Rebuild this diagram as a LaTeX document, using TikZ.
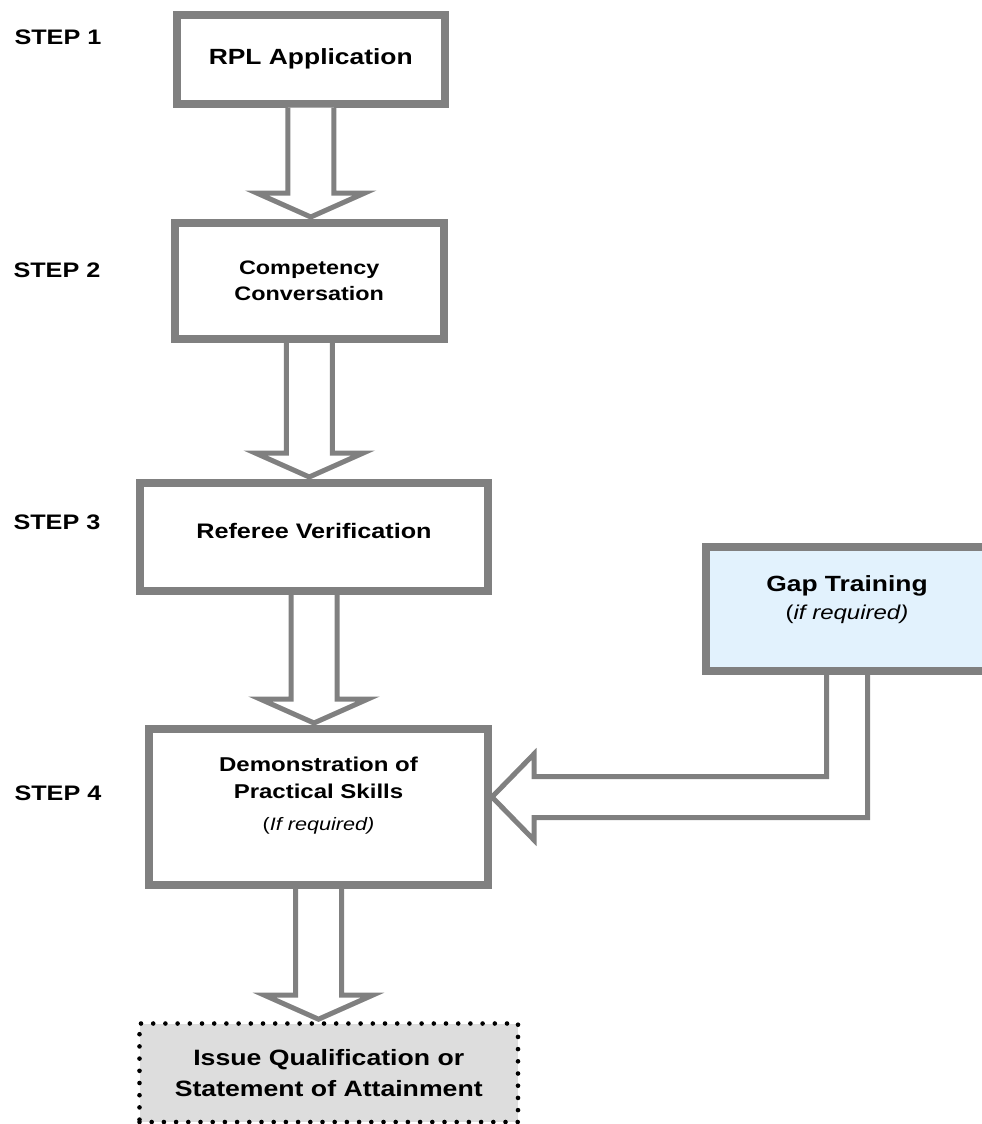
\documentclass[tikz,border=0pt]{standalone}
\usepackage{fontspec}
\setmainfont{Liberation Sans}[FakeStretch=1.2]
\usetikzlibrary{positioning,calc}
\definecolor{boxgray}{RGB}{128,128,128}
\definecolor{gapblue}{RGB}{226,242,253}
\definecolor{finalgray}{RGB}{221,221,221}

\begin{document}
\begin{tikzpicture}[x=1pt, y=-1pt,
    stage/.style={rectangle, draw=boxgray, line width=8pt, fill=white,
      inner sep=0pt, align=center},
    gapstage/.style={stage, fill=gapblue},
    finalstage/.style={stage, draw=black, fill=finalgray, line width=4.6pt,
      dash pattern=on 0pt off 12.2pt, line cap=round},
    steplabel/.style={anchor=west, font=\bfseries\fontsize{21}{25}\selectfont},
    blockarrow/.style={draw=boxgray, line width=5pt, fill=white}]
  \useasboundingbox (0,0) rectangle (982,1124);

  \node[steplabel] (s1) at (11,37) {STEP 1};
  \node[steplabel] (s2) at (10,270) {STEP 2};
  \node[steplabel] (s3) at (10,522) {STEP 3};
  \node[steplabel] (s4) at (11,793) {STEP 4};

  \node[stage, minimum width=268.5pt, minimum height=88.5pt,
    font=\bfseries\fontsize{22}{26}\selectfont] (rpl) at (310.75,59.25) {RPL Application};
  \node[stage, minimum width=268.5pt, minimum height=116pt,
    font=\bfseries\fontsize{19.5}{26}\selectfont] (comp) at (309.25,281) {Competency\\Conversation};
  \node[stage, minimum width=348pt, minimum height=108pt, text depth=12pt,
    font=\bfseries\fontsize{21}{25}\selectfont] (ref) at (314,537) {Referee Verification};
  \node[stage, minimum width=339pt, minimum height=156pt] (demo) at (318.5,807) {};
  \node[align=center, font=\bfseries\fontsize{20}{27}\selectfont] (demotext)
    at ($(demo.center)+(0,-11)$)
    {Demonstration of\\Practical Skills\\[5pt]{\mdseries\fontsize{18}{22}\selectfont(\textit{If required)}}};
  \node[gapstage, minimum width=282pt, minimum height=124pt] (gap) at (847,609) {};
  \node[align=center, font=\bfseries\fontsize{22}{28}\selectfont] (gaptext)
    at ($(gap.center)+(0,-9)$)
    {Gap Training\\{\mdseries\fontsize{20}{24}\selectfont(\textit{if required)}}};
  \node[finalstage, minimum width=378.5pt, minimum height=98.5pt,
    font=\bfseries\fontsize{22.2}{31}\selectfont] (issue) at (328.75,1072.75)
    {Issue Qualification or\\Statement of Attainment};

  % hollow block arrows
  \foreach \a/\b in {rpl/comp, comp/ref, ref/demo, demo/issue}
    \draw[blockarrow] let \p1=(\a.south), \p2=(\b.north) in
      (\x1-23pt,\y1) -- (\x1-23pt,\y2+26pt) -- (\x1-54pt,\y2+26pt) -- (\x1,\y2+2pt)
      -- (\x1+54pt,\y2+26pt) -- (\x1+23pt,\y2+26pt) -- (\x1+23pt,\y1);
  \draw[blockarrow] let \p1=(gap.south), \p2=(demo.east) in
    (\x1-20.5pt,\y1) -- (\x1-20.5pt,\y2+30.5pt) -- (\x2+42pt,\y2+30.5pt)
    -- (\x2+42pt,\y2+53pt) -- (\x2,\y2+10pt) -- (\x2+42pt,\y2-33pt)
    -- (\x2+42pt,\y2-10.5pt) -- (\x1+20.5pt,\y2-10.5pt) -- (\x1+20.5pt,\y1);
\end{tikzpicture}
\end{document}
